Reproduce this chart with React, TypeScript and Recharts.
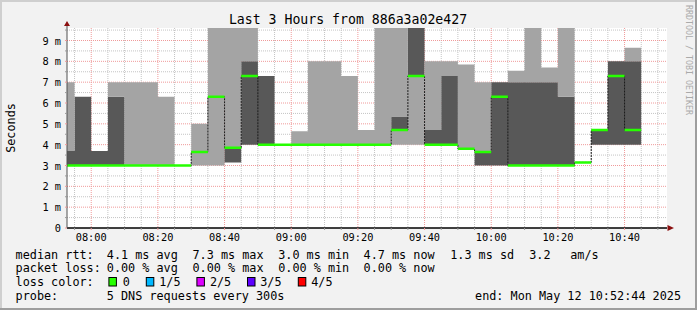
import React from "react";
import { ComposedChart, Area, Line, XAxis, YAxis, CartesianGrid } from "recharts";

// ---- data (5-minute bins, 5 DNS pings each, values in ms) ----
const binStart = [
  "07:50", "07:55", "08:00", "08:05", "08:10", "08:15", "08:20", "08:25", "08:30", "08:35",
  "08:40", "08:45", "08:50", "08:55", "09:00", "09:05", "09:10", "09:15", "09:20", "09:25",
  "09:30", "09:35", "09:40", "09:45", "09:50", "09:55", "10:00", "10:05", "10:10", "10:15",
  "10:20", "10:25", "10:30", "10:35", "10:40",
];
const pingMin = [
  3.0, 3.0, 3.0, 3.0, 3.0, 3.0, 3.0, 3.0, 3.0, 3.0,
  3.15, 4.0, 4.0, 4.0, 4.0, 4.0, 4.0, 4.0, 4.0, 4.0,
  4.0, 4.0, 4.0, 4.0, 3.8, 3.0, 3.0, 3.0, 3.0, 3.0,
  3.0, 3.15, 4.0, 4.0, 4.0,
];
const pingLow = [
  3.0, 3.0, 3.0, 3.0, 3.0, 3.0, 3.0, 3.0, 3.65, 6.3,
  3.15, 4.0, 4.0, 4.0, 4.0, 4.0, 4.0, 4.0, 4.0, 4.0,
  4.7, 7.3, 4.0, 4.0, 3.8, 3.0, 3.0, 3.0, 3.0, 3.0,
  3.0, 3.15, 4.0, 4.0, 4.0,
];
const medianRtt = [
  3.0, 3.0, 3.0, 3.0, 3.0, 3.0, 3.0, 3.0, 3.65, 6.3,
  3.85, 7.3, 4.0, 4.0, 4.0, 4.0, 4.0, 4.0, 4.0, 4.0,
  4.7, 7.3, 4.0, 4.0, 3.8, 3.65, 6.3, 3.0, 3.0, 3.0,
  3.0, 3.15, 4.7, 7.3, 4.7,
];
const pingHigh = [
  3.7, 6.3, 3.7, 6.3, 3.0, 3.0, 3.0, 3.0, 3.65, 6.3,
  3.85, 8.0, 7.3, 4.0, 4.0, 4.0, 4.0, 4.0, 4.0, 4.0,
  5.35, 10.5, 4.7, 7.3, 3.8, 3.65, 7.0, 7.0, 7.0, 7.0,
  6.3, 3.15, 4.7, 8.0, 8.0,
];
const pingMax = [
  7.0, 6.3, 3.7, 7.0, 7.0, 7.0, 6.3, 3.0, 5.0, 10.5,
  10.5, 10.5, 7.3, 4.0, 4.65, 8.0, 8.0, 7.3, 4.7, 10.5,
  10.5, 10.5, 8.0, 8.0, 7.85, 7.0, 7.0, 7.55, 10.5, 7.7,
  10.5, 3.15, 4.7, 8.0, 8.65,
];

const xTickLabels = ["08:00", "08:20", "08:40", "09:00", "09:20", "09:40", "10:00", "10:20", "10:40"];
const yTickValues = [0, 1, 2, 3, 4, 5, 6, 7, 8, 9];
const yTickLabels = ["0", "1 m", "2 m", "3 m", "4 m", "5 m", "6 m", "7 m", "8 m", "9 m"];

const lossLabels = ["0", "1/5", "2/5", "3/5", "4/5"];
const lossColors = ["#26ff00", "#00b8ff", "#dd00ff", "#5e00ff", "#ff0000"];

const rttStats = ["4.1 ms avg", "7.3 ms max", "3.0 ms min", "4.7 ms now", "1.3 ms sd", "3.2", "am/s"];
const lossStats = ["0.00 % avg", "0.00 % max", "0.00 % min", "0.00 % now"];

const titleText = "Last 3 Hours from 886a3a02e427";
const probeText = "5 DNS requests every 300s";
const endText = "end: Mon May 12 10:52:44 2025";

// ---- helpers ----
const FONT = "'DejaVu Sans Mono', monospace";
const W = 697;
const H = 310;
const toMin = (s: string) => {
  const [h, m] = s.split(":").map(Number);
  return h * 60 + m;
};
const X_START = toMin("07:52") + 44 / 60;
const X_END = X_START + 180;
const Y_TOP = 9.6;
const BAND = 0.06;

const table = binStart.map((s, i) => ({
  t: toMin(s),
  base: pingMin[i],
  lo: pingLow[i] - pingMin[i],
  mid: pingHigh[i] - pingLow[i],
  hi: pingMax[i] - pingHigh[i],
  med: medianRtt[i],
  medBase: medianRtt[i] - BAND,
  medBand: 2 * BAND,
}));
const lastRow = table[table.length - 1];
const data = [...table, { ...lastRow, t: lastRow.t + 5 }];

const majorTimes = xTickLabels.map(toMin);
const allTimes: number[] = [];
for (let t = toMin("07:55"); t <= toMin("10:50"); t += 5) allTimes.push(t);
const minorTimes = allTimes.filter((t) => !majorTimes.includes(t));
const halfSteps: number[] = [];
for (let i = 0; i < 20; i++) halfSteps.push(i / 2);
const majorMs = yTickValues.filter((v) => v > 0);
const minorMs = halfSteps.filter((v) => v % 1 !== 0);

const MINOR = "#c4c4c4";
const MAJOR = "#f09a9a";

const xGen = (vals: number[]) => (p: any) => {
  const s = p?.xAxis?.scale;
  const o = p?.offset ?? { left: 67, width: 600 };
  return vals.map((v) =>
    typeof s === "function" ? s(v) : o.left + ((v - X_START) / (X_END - X_START)) * o.width
  );
};
const yGen = (vals: number[]) => (p: any) => {
  const s = p?.yAxis?.scale;
  const o = p?.offset ?? { top: 28, height: 200 };
  return vals.map((v) =>
    typeof s === "function" ? s(v) : o.top + o.height * (1 - v / Y_TOP)
  );
};

const XTick = (props: any) => {
  const { x, y, payload } = props;
  const idx = majorTimes.indexOf(payload.value);
  return (
    <g>
      <line x1={x} x2={x} y1={y} y2={y + 2} stroke={idx >= 0 ? MAJOR : "#9a9a9a"} />
      {idx >= 0 && (
        <text x={x} y={y + 12.7} textAnchor="middle" fontFamily={FONT} fontSize={10.3} fill="#000">
          {xTickLabels[idx]}
        </text>
      )}
    </g>
  );
};

const YTick = (props: any) => {
  const { x, y, payload } = props;
  const idx = yTickValues.indexOf(payload.value);
  return (
    <g>
      <line x1={x - 2} x2={x} y1={y} y2={y} stroke={idx >= 0 ? MAJOR : "#9a9a9a"} />
      {idx >= 0 && (
        <text x={x - 6} y={y + 4} textAnchor="end" fontFamily={FONT} fontSize={10.3} fill="#000">
          {yTickLabels[idx]}
        </text>
      )}
    </g>
  );
};

const colX = [106.8, 192.5, 278.2, 363.6, 450.2, 529.2, 570.2];
const boxX = [108.4, 145.8, 196.4, 247, 297.8];
const boxLabelX = [122.7, 159.2, 209.9, 260.2, 311.2];
const LF = 11.8;

export default function App() {
  return (
    <div
      style={{
        position: "absolute",
        left: 0,
        top: 0,
        width: W,
        height: H,
        background: "#f2f2f2",
        overflow: "hidden",
      }}
    >
      <ComposedChart width={W} height={H} data={data} margin={{ top: 28, right: 30, bottom: 0, left: 0 }}>
        <CartesianGrid
          fill="#ffffff"
          stroke={MINOR}
          strokeDasharray="1 1"
          verticalCoordinatesGenerator={xGen(minorTimes)}
          horizontalCoordinatesGenerator={yGen(minorMs)}
        />
        <CartesianGrid
          fill="none"
          stroke={MAJOR}
          strokeDasharray="1 1"
          zIndex={-90}
          verticalCoordinatesGenerator={xGen(majorTimes)}
          horizontalCoordinatesGenerator={yGen(majorMs)}
        />
        <XAxis
          dataKey="t"
          type="number"
          domain={[X_START, X_END]}
          allowDataOverflow
          ticks={allTimes}
          interval={0}
          height={82}
          tickSize={0}
          tickMargin={0}
          tickLine={false}
          axisLine={{ stroke: "#000", strokeWidth: 1.3 }}
          tick={<XTick />}
        />
        <YAxis
          type="number"
          domain={[0, Y_TOP]}
          allowDataOverflow
          ticks={halfSteps}
          interval={0}
          width={67}
          tickSize={0}
          tickMargin={0}
          tickLine={false}
          axisLine={{ stroke: "#505050" }}
          tick={<YTick />}
        />
        <Area type="stepAfter" dataKey="base" stackId="smoke" stroke="none" fill="#ffffff" fillOpacity={0} dot={false} activeDot={false} isAnimationActive={false} />
        <Area type="stepAfter" dataKey="lo" stackId="smoke" stroke="none" fill="#a4a4a4" fillOpacity={1} dot={false} activeDot={false} isAnimationActive={false} />
        <Area type="stepAfter" dataKey="mid" stackId="smoke" stroke="none" fill="#585858" fillOpacity={1} dot={false} activeDot={false} isAnimationActive={false} />
        <Area type="stepAfter" dataKey="hi" stackId="smoke" stroke="none" fill="#a4a4a4" fillOpacity={1} dot={false} activeDot={false} isAnimationActive={false} />
        <Line type="stepAfter" dataKey="med" stroke="#1a1a1a" strokeWidth={1} strokeDasharray="2 1" dot={false} activeDot={false} isAnimationActive={false} />
        <Area type="stepAfter" dataKey="medBase" stackId="med" stroke="none" fill="#ffffff" fillOpacity={0} dot={false} activeDot={false} isAnimationActive={false} zIndex={450} />
        <Area type="stepAfter" dataKey="medBand" stackId="med" stroke="none" fill="#26ff00" fillOpacity={1} dot={false} activeDot={false} isAnimationActive={false} zIndex={450} />
      </ComposedChart>

      <svg
        width={W}
        height={H}
        style={{ position: "absolute", left: 0, top: 0, pointerEvents: "none" }}
        fontFamily={FONT}
      >
        {/* frame */}
        <rect x={0} y={0} width={W} height={2} fill="#cfcfcf" />
        <rect x={0} y={0} width={2} height={H} fill="#cfcfcf" />
        <rect x={0} y={H - 2} width={W} height={2} fill="#9e9e9e" />
        <rect x={W - 2} y={0} width={2} height={H} fill="#9e9e9e" />

        {/* axis arrows */}
        <line x1={67} x2={67} y1={24} y2={28} stroke="#505050" />
        <polygon points="64,26 70,26 67,21" fill="#8b1010" />
        <polygon points="667.5,225 667.5,231 674,228" fill="#8b1010" />

        {/* title */}
        <text x={348} y={24} textAnchor="middle" fontSize={13.2} fill="#000">
          {titleText}
        </text>

        {/* unit */}
        <text transform="translate(15,128) rotate(-90)" textAnchor="middle" fontSize={LF} fill="#000">
          Seconds
        </text>

        {/* watermark */}
        <text transform="translate(685.5,5) rotate(90)" fontSize={8.3} fill="#aaaaaa">
          RRDTOOL / TOBI OETIKER
        </text>

        {/* legend */}
        <g fontSize={LF} fill="#000" style={{ whiteSpace: "pre" }}>
          <text x={15.6} y={258.5}>median rtt:</text>
          {rttStats.map((s, i) => (
            <text key={"r" + i} x={colX[i]} y={258.5}>{s}</text>
          ))}
          <text x={15.6} y={272.2}>packet loss:</text>
          {lossStats.map((s, i) => (
            <text key={"l" + i} x={colX[i]} y={272.2}>{s}</text>
          ))}
          <text x={15.6} y={286}>loss color:</text>
          {lossLabels.map((s, i) => (
            <g key={"c" + i}>
              <rect x={boxX[i] + 0.5} y={277.5} width={7.5} height={8.5} fill={lossColors[i]} stroke="#000" strokeWidth={1} />
              <text x={boxLabelX[i]} y={286}>{s}</text>
            </g>
          ))}
          <text x={15.6} y={299.7}>probe:</text>
          <text x={colX[0]} y={299.7}>{probeText}</text>
          <text x={681} y={299.7} textAnchor="end">{endText}</text>
        </g>
      </svg>
    </div>
  );
}
